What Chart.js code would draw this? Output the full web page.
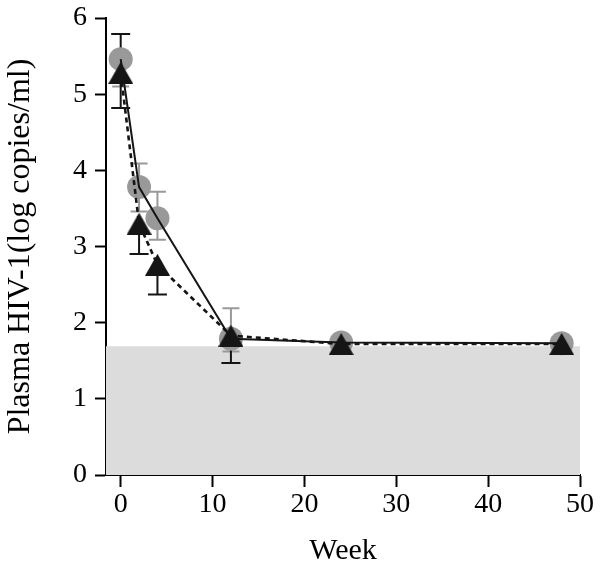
<!DOCTYPE html>
<html>
<head>
<meta charset="utf-8">
<script src="https://cdn.jsdelivr.net/npm/chart.js@4/dist/chart.umd.min.js"></script>
<style>
  html, body { margin: 0; padding: 0; background: #fff; }
  #wrap { width: 600px; height: 564px; position: relative; }
</style>
</head>
<body>
<div id="wrap"><canvas id="c" width="600" height="564"></canvas></div>
<script>
// ---- data ----
const weeks = [0, 2, 4, 12, 24, 48];
const circleMean  = [5.46, 3.78, 3.37, 1.79, 1.74, 1.73];
const circleLower = [5.10, 3.46, 3.09, 1.62, null, null];
const circleUpper = [null, 4.09, 3.72, 2.19, null, null];
const triangleMean  = [5.28, 3.30, 2.76, 1.83, 1.72, 1.72];
const triangleLower = [4.82, 2.90, 2.37, 1.47, null, null];
const triangleUpper = [5.79, null, null, null, null, null];
const xTicks = [0, 10, 20, 30, 40, 50];
const yTicks = [0, 1, 2, 3, 4, 5, 6];
const detectionLimit = 1.69;

const FONT = "'Liberation Serif', 'Times New Roman', serif";
const GRAY = '#999999';
const BLACK = '#151515';

// triangle marker image (bounding box centred on the value)
function makeTriangle(w, h, color) {
  const cv = document.createElement('canvas');
  cv.width = w; cv.height = h;
  const g = cv.getContext('2d');
  g.fillStyle = color;
  g.beginPath();
  g.moveTo(w / 2, 0);
  g.lineTo(w, h);
  g.lineTo(0, h);
  g.closePath();
  g.fill();
  return cv;
}
const triImg = makeTriangle(25, 22, BLACK);

function pts(xs, ys) { return xs.map((x, i) => ({ x: x, y: ys[i] })); }

const bgAndErrors = {
  id: 'bgAndErrors',
  beforeDatasetsDraw(chart) {
    const { ctx, chartArea: a, scales: { x, y } } = chart;
    ctx.save();
    // shaded region below detection limit
    const yl = y.getPixelForValue(detectionLimit);
    const y0 = y.getPixelForValue(0);
    ctx.fillStyle = '#dcdcdc';
    ctx.fillRect(a.left, yl, a.right - a.left, y0 - yl);

    function bars(means, lows, ups, color, cap, lw) {
      ctx.strokeStyle = color;
      ctx.lineWidth = lw;
      weeks.forEach((w, i) => {
        const px = x.getPixelForValue(w);
        const pm = y.getPixelForValue(means[i]);
        if (lows[i] != null) {
          const pl = y.getPixelForValue(lows[i]);
          ctx.beginPath();
          ctx.moveTo(px, pm); ctx.lineTo(px, pl);
          ctx.moveTo(px - cap / 2, pl); ctx.lineTo(px + cap / 2, pl);
          ctx.stroke();
        }
        if (ups[i] != null) {
          const pu = y.getPixelForValue(ups[i]);
          ctx.beginPath();
          ctx.moveTo(px, pm); ctx.lineTo(px, pu);
          ctx.moveTo(px - cap / 2, pu); ctx.lineTo(px + cap / 2, pu);
          ctx.stroke();
        }
      });
    }
    bars(circleMean, circleLower, circleUpper, GRAY, 17, 2);
    bars(triangleMean, triangleLower, triangleUpper, BLACK, 19, 2);
    ctx.restore();
  }
};

new Chart(document.getElementById('c'), {
  type: 'scatter',
  data: {
    datasets: [
      {
        label: 'triangle',
        data: pts(weeks, triangleMean),
        showLine: true,
        borderColor: BLACK,
        borderWidth: 2.6,
        borderDash: [5, 4],
        pointStyle: triImg,
        pointRadius: 12,
        backgroundColor: BLACK,
        order: 1
      },
      {
        label: 'circle line',
        data: pts(weeks, circleMean),
        showLine: true,
        borderColor: BLACK,
        borderWidth: 2,
        pointRadius: 0,
        order: 2
      },
      {
        label: 'circle',
        data: pts(weeks, circleMean),
        showLine: false,
        pointStyle: 'circle',
        pointRadius: 12,
        backgroundColor: GRAY,
        borderWidth: 0,
        order: 3
      }
    ]
  },
  options: {
    responsive: false,
    animation: false,
    events: [],
    layout: { padding: { top: 18, right: 20, left: 0, bottom: 0 } },
    plugins: { legend: { display: false }, tooltip: { enabled: false } },
    scales: {
      x: {
        type: 'linear',
        min: -1.6,
        max: 50,
        afterBuildTicks: s => { s.ticks = xTicks.map(v => ({ value: v })); },
        afterFit: s => { s.height = 89; s.paddingLeft = 0; s.paddingRight = 0; },
        grid: { display: true, drawOnChartArea: false, drawTicks: true, tickLength: 12, tickColor: '#000', tickWidth: 2 },
        border: { display: true, color: '#000', width: 2 },
        ticks: { color: '#000', font: { family: FONT, size: 28 }, padding: 1, maxRotation: 0 },
        title: { display: true, text: 'Week', color: '#000', font: { family: FONT, size: 30 }, padding: { top: 4, bottom: -5 } }
      },
      y: {
        type: 'linear',
        min: 0,
        max: 6,
        afterBuildTicks: s => { s.ticks = yTicks.map(v => ({ value: v })); },
        afterFit: s => { s.width = 106; s.paddingTop = 0; s.paddingBottom = 0; },
        grid: { display: true, drawOnChartArea: false, drawTicks: true, tickLength: 11, tickColor: '#000', tickWidth: 2 },
        border: { display: true, color: '#000', width: 2 },
        ticks: { color: '#000', font: { family: FONT, size: 28 }, padding: 8 },
        title: { display: true, text: 'Plasma HIV-1(log copies/ml)', color: '#000', font: { family: FONT, size: 32 }, padding: { top: 1, bottom: 4 } }
      }
    }
  },
  plugins: [bgAndErrors]
});
</script>
</body>
</html>
